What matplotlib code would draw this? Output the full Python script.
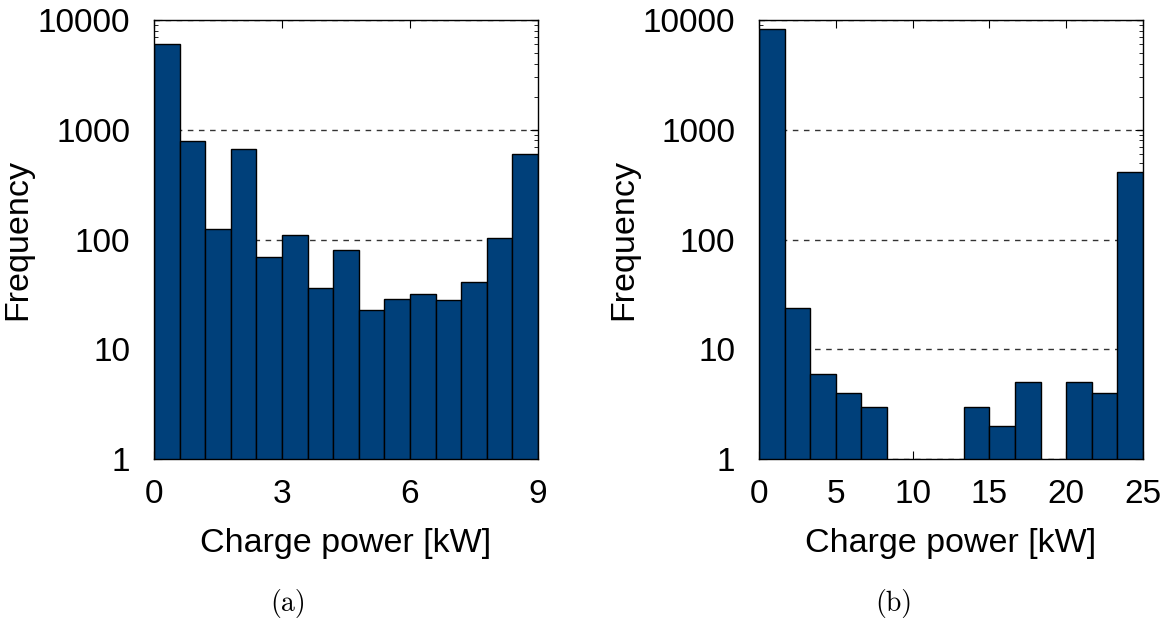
import numpy as np
import matplotlib.pyplot as plt
from matplotlib.ticker import FixedLocator, LogLocator, NullFormatter

# Panel (a): 0-9 kW, 15 bins
edges_a = np.linspace(0, 9, 16)
counts_a = [6080, 785, 126, 663, 70, 110, 36, 81, 23, 29, 32, 28, 41, 103, 597]

# Panel (b): 0-25 kW, 15 bins
edges_b = np.linspace(0, 25, 16)
counts_b = [8230, 24, 6, 4, 3, 0, 0, 0, 3, 2, 5, 0, 5, 4, 412]

xticks_a = [0, 3, 6, 9]
xticks_b = [0, 5, 10, 15, 20, 25]
yticks = [1, 10, 100, 1000, 10000]

bar_color = "#00407a"

plt.rcParams["font.family"] = ["Liberation Sans", "DejaVu Sans"]

fig = plt.figure(figsize=(11.69, 6.23), dpi=100)
ax_a = fig.add_axes([0.1317, 0.263, 0.3285, 0.705])
ax_b = fig.add_axes([0.6493, 0.263, 0.3285, 0.705])


def draw_panel(ax, edges, counts, xticks):
    counts = np.array(counts, dtype=float)
    widths = np.diff(edges)
    keep = counts > 0
    ax.bar(edges[:-1][keep], counts[keep], width=widths[keep], align="edge",
           color=bar_color, edgecolor="black", linewidth=1.0, zorder=2)
    ax.set_yscale("log")
    ax.set_ylim(1, 10000)
    ax.set_xlim(edges[0], edges[-1])
    ax.set_yticks(yticks)
    ax.set_yticklabels([str(t) for t in yticks])
    ax.yaxis.set_minor_locator(LogLocator(base=10, subs=np.arange(2, 10)))
    ax.yaxis.set_minor_formatter(NullFormatter())
    ax.set_xticks(xticks)
    ax.xaxis.set_minor_locator(FixedLocator([]))
    ax.tick_params(axis="both", which="both", direction="in",
                   top=True, right=True, labelsize=24)
    ax.tick_params(axis="x", pad=14)
    ax.tick_params(axis="y", pad=17)
    ax.tick_params(which="major", length=6)
    ax.tick_params(which="minor", length=3)
    ax.grid(axis="y", which="major", linestyle=(0, (4, 4)), color="#333333",
            linewidth=1.0, zorder=0)
    ax.set_axisbelow(True)
    ax.set_xlabel("Charge power [kW]", fontsize=24.5, labelpad=13)
    ax.set_ylabel("Frequency", fontsize=24.5, labelpad=3)
    for s in ax.spines.values():
        s.set_linewidth(1.0)


draw_panel(ax_a, edges_a, counts_a, xticks_a)
draw_panel(ax_b, edges_b, counts_b, xticks_b)

fig.text(0.2465, 0.032, "(a)", fontsize=20, family=["cmr10", "DejaVu Serif"],
         ha="center", va="center")
fig.text(0.765, 0.032, "(b)", fontsize=20, family=["cmr10", "DejaVu Serif"],
         ha="center", va="center")

fig.savefig("out.png", dpi=100)
